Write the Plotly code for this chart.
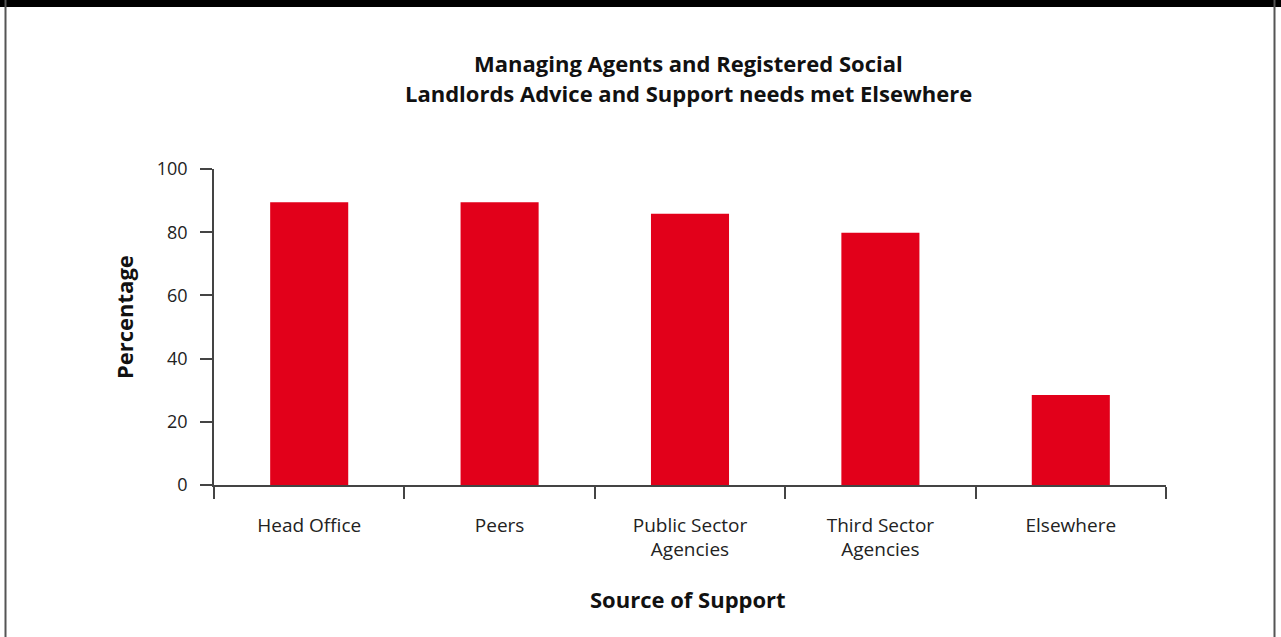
import plotly.graph_objects as go

categories = ["Head Office", "Peers", "Public Sector<br>Agencies", "Third Sector<br>Agencies", "Elsewhere"]
percentages = [89.5, 89.5, 85.8, 79.8, 28.5]
y_ticks = [0, 20, 40, 60, 80, 100]

W, H = 1281, 637
L, R, T, B = 214, 115, 169, 152
pw, ph = W - L - R, H - T - B


def px_x(x):
    return (x - L) / pw


def px_y(y):
    return (H - B - y) / ph


fig = go.Figure(
    go.Bar(
        x=categories,
        y=percentages,
        marker=dict(color="#E2001A", line=dict(width=0)),
        width=0.41,
    )
)

font_family = "Open Sans, Noto Sans, sans-serif"

fig.update_layout(
    width=W,
    height=H,
    margin=dict(l=L, r=R, t=T, b=B, pad=0),
    paper_bgcolor="white",
    plot_bgcolor="white",
    showlegend=False,
    font=dict(family=font_family, size=18, color="#222"),
    xaxis=dict(
        showgrid=False,
        showline=True,
        linecolor="#444",
        linewidth=1.5,
        ticks="outside",
        tickson="boundaries",
        ticklen=12,
        tickcolor="#444",
        tickwidth=1.5,
        ticklabelstandoff=22,
        tickfont=dict(size=19, color="#222"),
        range=[-0.5, 4.5],
    ),
    yaxis=dict(
        range=[0, 100],
        tickvals=y_ticks,
        showgrid=False,
        zeroline=False,
        showline=True,
        linecolor="#444",
        linewidth=1.5,
        ticks="outside",
        ticklen=12,
        tickcolor="#444",
        tickwidth=1.5,
        ticklabelstandoff=9,
        tickfont=dict(size=18, color="#222"),
    ),
    bargap=0.59,
)

# chart title and axis titles
fig.add_annotation(text="<b>Managing Agents and Registered Social</b>", xref="paper", yref="paper",
                   x=px_x(688), y=px_y(63), xanchor="center", yanchor="middle", showarrow=False,
                   font=dict(size=22, color="#111"))
fig.add_annotation(text="<b>Landlords Advice and Support needs met Elsewhere</b>", xref="paper", yref="paper",
                   x=px_x(688), y=px_y(93), xanchor="center", yanchor="middle", showarrow=False,
                   font=dict(size=22, color="#111"))
fig.add_annotation(text="<b>Source of Support</b>", xref="paper", yref="paper",
                   x=px_x(688), y=px_y(599), xanchor="center", yanchor="middle", showarrow=False,
                   font=dict(size=22, color="#111"))
fig.add_annotation(text="<b>Percentage</b>", xref="paper", yref="paper", textangle=-90,
                   x=px_x(124), y=px_y(317), xanchor="center", yanchor="middle", showarrow=False,
                   font=dict(size=22, color="#111"))

# frame: thick top bar and thin side rules
fig.add_shape(type="rect", xref="paper", yref="paper",
              x0=px_x(0), x1=px_x(W), y0=px_y(7), y1=px_y(0),
              fillcolor="black", line=dict(width=0), layer="above")
fig.add_shape(type="line", xref="paper", yref="paper",
              x0=px_x(5.5), x1=px_x(5.5), y0=px_y(0), y1=px_y(H),
              line=dict(color="#555", width=2))
fig.add_shape(type="line", xref="paper", yref="paper",
              x0=px_x(1274.5), x1=px_x(1274.5), y0=px_y(0), y1=px_y(H),
              line=dict(color="#555", width=2))

fig.write_html("out.html")
